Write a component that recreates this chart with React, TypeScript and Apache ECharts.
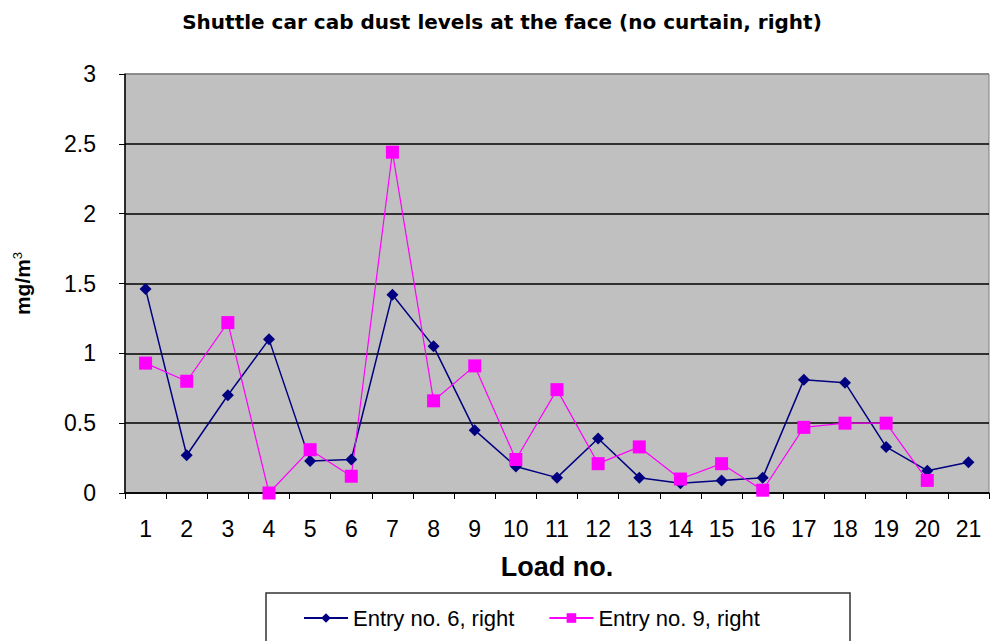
import React, { useEffect, useRef } from "react";
import * as echarts from "echarts";

const categories = ["1","2","3","4","5","6","7","8","9","10","11","12","13","14","15","16","17","18","19","20","21"];
const entry6 = [1.46,0.27,0.70,1.10,0.23,0.24,1.42,1.05,0.45,0.19,0.11,0.39,0.11,0.07,0.09,0.11,0.81,0.79,0.33,0.16,0.22];
const entry9 = [0.93,0.80,1.22,0.0,0.31,0.12,2.44,0.66,0.91,0.24,0.74,0.21,0.33,0.10,0.21,0.02,0.47,0.50,0.50,0.09,null];
const seriesNames = ["Entry no. 6, right", "Entry no. 9, right"];

export default function App() {
  const ref = useRef<HTMLDivElement>(null);
  useEffect(() => {
    const chart = echarts.init(ref.current!, null, { renderer: "svg" });
    const font = "Arial, 'Liberation Sans', sans-serif";
    chart.setOption({
      animation: false,
      title: {
        text: "Shuttle car cab dust levels at the face (no curtain, right)",
        left: 497,
        textAlign: "center",
        top: 7,
        textStyle: { fontFamily: "'DejaVu Sans', Verdana, sans-serif", fontSize: 20, fontWeight: "bold", color: "#000" },
      },
      grid: {
        left: 125, right: 1, top: 74, bottom: 148,
        show: true, backgroundColor: "#C0C0C0", borderColor: "#808080", borderWidth: 1,
      },
      legend: {
        left: 298, top: 602,
        itemWidth: 44, itemHeight: 12, itemGap: 34,
        textStyle: { fontFamily: font, fontSize: 22, color: "#000" },
        data: seriesNames,
      },
      graphic: [
        { type: "rect", shape: { x: 266, y: 593, width: 584, height: 60 }, style: { fill: "none", stroke: "#333", lineWidth: 1.5 } },
      ],
      xAxis: {
        type: "category",
        data: categories,
        boundaryGap: true,
        name: "Load no.",
        nameLocation: "middle",
        nameGap: 60,
        nameTextStyle: { fontFamily: font, fontSize: 27, fontWeight: "bold", color: "#000" },
        axisLine: { lineStyle: { color: "#000", width: 1.5 } },
        axisTick: { show: true, length: 6, lineStyle: { color: "#000" } },
        axisLabel: { fontFamily: font, fontSize: 23, color: "#000", margin: 24 },
      },
      yAxis: {
        type: "value",
        min: 0, max: 3, interval: 0.5,
        name: "mg/m{sup|3}",
        nameLocation: "middle",
        nameGap: 91,
        nameRotate: 90,
        nameTextStyle: {
          fontFamily: font, fontSize: 21, fontWeight: "bold", color: "#000",
          rich: { sup: { fontFamily: font, fontSize: 13, fontWeight: "normal", color: "#000", verticalAlign: "top", padding: [0, 0, 10, 0] } },
        },
        axisLine: { show: true, lineStyle: { color: "#000", width: 1.5 } },
        axisTick: { show: true, length: 6, lineStyle: { color: "#000" } },
        axisLabel: { fontFamily: font, fontSize: 23, color: "#000", margin: 29 },
        splitLine: { show: true, lineStyle: { color: ["#000","#000","#000","#000","#000","#000","#808080"], width: 1.5 } },
      },
      series: [
        {
          name: seriesNames[0], type: "line", data: entry6,
          symbol: "diamond", symbolSize: 12,
          itemStyle: { color: "#000080" },
          lineStyle: { color: "#000080", width: 1.5 },
        },
        {
          name: seriesNames[1], type: "line", data: entry9,
          symbol: "rect", symbolSize: 13,
          itemStyle: { color: "#FF00FF" },
          lineStyle: { color: "#FF00FF", width: 1.2 },
        },
      ],
    });
    return () => chart.dispose();
  }, []);
  return <div ref={ref} style={{ width: 990, height: 641, position: "absolute", left: 0, top: 0 }} />;
}
